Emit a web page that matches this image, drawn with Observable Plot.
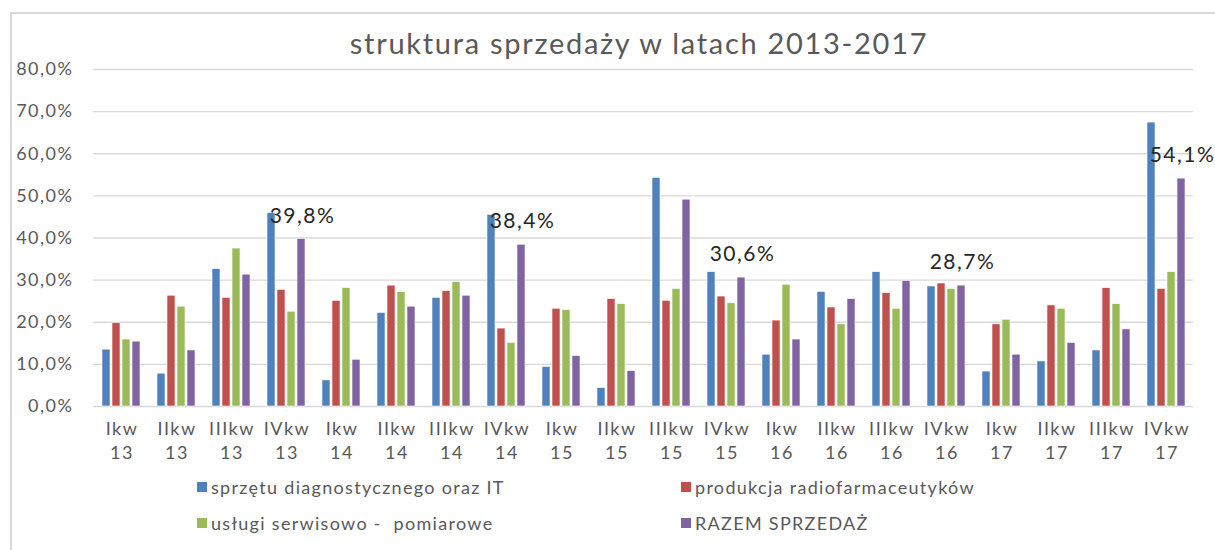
<!DOCTYPE html>
<html>
<head>
<meta charset="utf-8">
<script src="https://cdn.jsdelivr.net/npm/d3@7"></script>
<script src="https://cdn.jsdelivr.net/npm/@observablehq/plot@0.6"></script>
<style>
  html, body { margin: 0; padding: 0; background: #fff; }
  #wrap { position: relative; width: 1215px; height: 550px; overflow: hidden; font-family: Lato, "Open Sans", sans-serif; color: #595959; }
  #frame { position: absolute; left: 10px; top: 12px; width: 1300px; height: 600px; border-top: 2px solid #d9d9d9; border-left: 2px solid #d9d9d9; }
  #title { position: absolute; left: 639px; top: 25px; transform: translateX(-50%); font-size: 29px; letter-spacing: 1.7px; white-space: nowrap; color: #595959; }
  #chart { position: absolute; left: 0; top: 60px; }
  .leg { position: absolute; font-size: 18px; letter-spacing: 1.3px; white-space: pre; display: flex; align-items: center; }
  .sw { width: 10px; height: 10px; margin-right: 4px; display: inline-block; }
</style>
</head>
<body>
<div id="wrap">
  <div id="frame"></div>
  <div id="title"></div>
  <div id="chart"></div>
  <div id="legend"></div>
</div>
<script>
const title = "struktura sprzedaży w latach 2013-2017";
const categories = ["Ikw 13","IIkw 13","IIIkw 13","IVkw 13","Ikw 14","IIkw 14","IIIkw 14","IVkw 14","Ikw 15","IIkw 15","IIIkw 15","IVkw 15","Ikw 16","IIkw 16","IIIkw 16","IVkw 16","Ikw 17","IIkw 17","IIIkw 17","IVkw 17"];
const seriesNames = ["sprzętu diagnostycznego oraz IT","produkcja radiofarmaceutyków","usługi serwisowo -  pomiarowe","RAZEM SPRZEDAŻ"];
const seriesColors = ["#4F81BD","#C0504D","#9BBB59","#8064A2"];
const diagnostyka = [13.5,7.8,32.6,45.9,6.2,22.2,25.8,45.5,9.4,4.4,54.3,31.9,12.3,27.2,31.9,28.5,8.3,10.7,13.3,67.4];
const radiofarm   = [19.8,26.3,25.8,27.7,25.1,28.7,27.4,18.5,23.2,25.5,25.1,26.1,20.4,23.5,26.9,29.2,19.5,24.0,28.1,27.9];
const serwis      = [15.9,23.7,37.5,22.5,28.1,27.2,29.5,15.1,22.9,24.3,27.9,24.5,28.9,19.5,23.2,27.9,20.6,23.2,24.3,31.9];
const razem       = [15.4,13.3,31.3,39.8,11.1,23.7,26.3,38.4,12.0,8.4,49.1,30.6,15.9,25.5,29.8,28.7,12.3,15.1,18.3,54.1];
const labelledCategories = ["IVkw 13","IVkw 14","IVkw 15","IVkw 16","IVkw 17"];
const yTicks = [0,10,20,30,40,50,60,70,80];

const seriesValues = [diagnostyka, radiofarm, serwis, razem];
const rows = [];
categories.forEach((c, i) => seriesNames.forEach((s, k) => rows.push({cat: c, series: s, value: seriesValues[k][i]})));
const labelRows = rows.filter(r => r.series === seriesNames[3] && labelledCategories.includes(r.cat));
const fmt = v => v.toFixed(1).replace(".", ",") + "%";

document.getElementById("title").textContent = title;

const chart = Plot.plot({
  width: 1215,
  height: 415,
  marginLeft: 93,
  marginRight: 22,
  marginTop: 9,
  marginBottom: 69,
  style: {fontFamily: "Lato, 'Open Sans', sans-serif", fontSize: "18px", letterSpacing: "1.5px", color: "#595959", background: "transparent", overflow: "visible"},
  fx: {domain: categories, padding: 0, axis: null, label: null},
  x: {domain: seriesNames, paddingInner: 0.25, paddingOuter: 0.875, axis: null, label: null},
  y: {domain: [0, 80], ticks: yTicks, tickFormat: fmt, tickSize: 0, tickPadding: 20, label: null, grid: false},
  color: {domain: seriesNames, range: seriesColors},
  marks: [
    Plot.ruleY(yTicks, {stroke: "#d9d9d9", strokeWidth: 1.3}),
    Plot.barY(rows, {fx: "cat", x: "series", y: "value", fill: "series", stroke: "#fff", strokeWidth: 0.6}),
    Plot.text(labelRows, {fx: "cat", x: "series", y: "value", text: d => fmt(d.value), dy: -23, dx: 1, fontSize: 21, fill: "#262626"}),
    Plot.text(categories, {fx: d => d, text: d => d.split(" ")[0], frameAnchor: "bottom", dy: 28, dx: 1, fontSize: 18, fill: "#595959"}),
    Plot.text(categories, {fx: d => d, text: d => d.split(" ")[1], frameAnchor: "bottom", dy: 52, dx: 1, fontSize: 18, fill: "#595959"})
  ]
});
document.getElementById("chart").appendChild(chart);

const legendPos = [[197, 487], [681, 487], [197, 523], [681, 523]];
const legend = document.getElementById("legend");
seriesNames.forEach((s, k) => {
  const el = document.createElement("div");
  el.className = "leg";
  el.style.left = legendPos[k][0] + "px";
  el.style.top = (legendPos[k][1] - 12) + "px";
  el.style.height = "24px";
  const sw = document.createElement("span");
  sw.className = "sw";
  sw.style.background = seriesColors[k];
  el.appendChild(sw);
  el.appendChild(document.createTextNode(s));
  legend.appendChild(el);
});
</script>
</body>
</html>
